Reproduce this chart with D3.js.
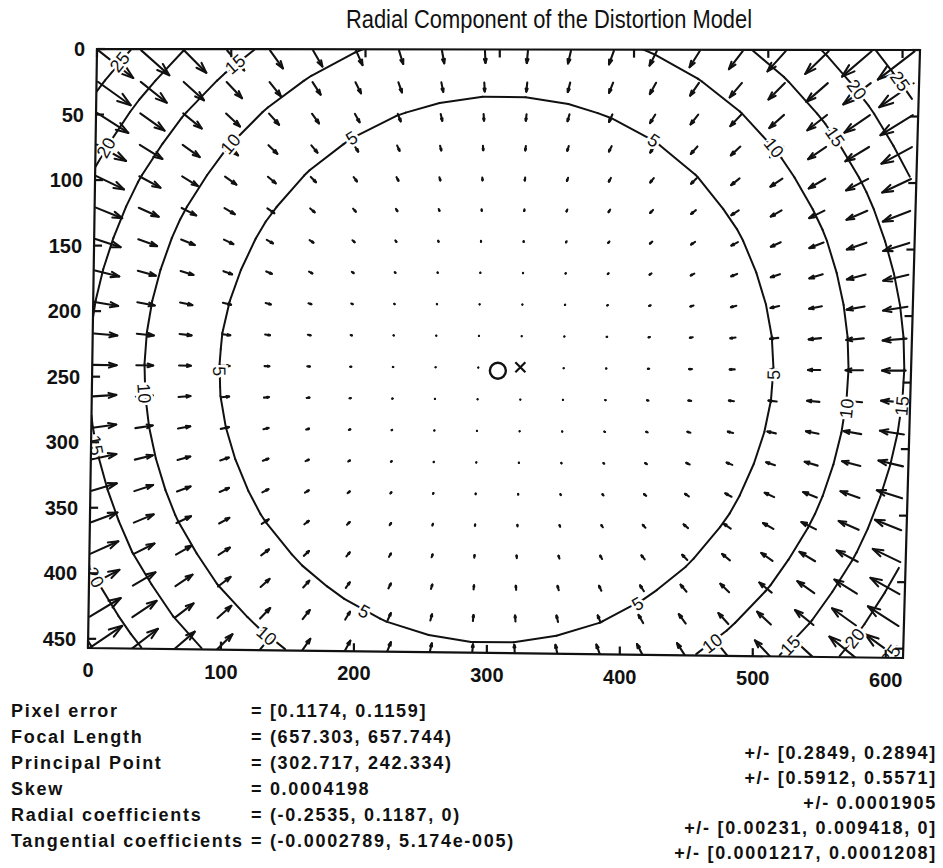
<!DOCTYPE html>
<html>
<head>
<meta charset="utf-8">
<script src="https://cdn.jsdelivr.net/npm/d3@7"></script>
<style>
  body { margin: 0; background: #fff; }
  text { font-family: "Liberation Sans", Arial, sans-serif; fill: #111; }
</style>
</head>
<body>
<div id="chart"></div>
<script>
// calibration results, as printed under the figure
const imageSize = [640, 480];
const focalLength = [657.303, 657.744];
const principalPoint = [302.717, 242.334];
const skew = 0.0004198;
const radialCoeffs = [-0.2535, 0.1187, 0];
const gridDivisions = 20;

const contourLevels = [5, 10, 15, 20, 25, 30];
const xTicks = [0, 100, 200, 300, 400, 500, 600];
const yTicks = [0, 50, 100, 150, 200, 250, 300, 350, 400, 450];
const xLimit = [0, 613];
const yLimit = [0, 457];

// contour labels: level and the rough spot where it sits (image pixels)
const labelSpots = [
  [5, 100, 245], [5, 511, 245], [5, 192, 69], [5, 416, 69], [5, 206, 429], [5, 414, 421],
  [10, 45, 262], [10, 567, 270], [10, 104, 75], [10, 514, 67], [10, 134, 446], [10, 472, 451],
  [15, 10, 301], [15, 611, 268], [15, 107, 16], [15, 559, 60], [15, 534, 454],
  [20, 11, 77], [20, 574, 24], [20, 10, 400], [20, 574, 441],
  [25, 22, 14], [25, 609, 16], [25, 604, 455]
];

const infoNames = ["Pixel error", "Focal Length", "Principal Point", "Skew",
                   "Radial coefficients", "Tangential coefficients"];
const infoValues = ["= [0.1174, 0.1159]", "= (657.303, 657.744)", "= (302.717, 242.334)",
                    "= 0.0004198", "= (-0.2535, 0.1187, 0)", "= (-0.0002789, 5.174e-005)"];
const infoErrors = ["+/- [0.2849, 0.2894]", "+/- [0.5912, 0.5571]", "+/- 0.0001905",
                    "+/- [0.00231, 0.009418, 0]", "+/- [0.0001217, 0.0001208]"];

const W = 943, H = 868;
// the scanned axes box is slightly out of square: corners TL, TR, BR, BL
const corner = {tl: [97, 49], tr: [920, 50], br: [903, 658], bl: [88, 648]};

const svg = d3.select("#chart").append("svg")
    .attr("width", W).attr("height", H);

const u = d3.scaleLinear().domain(xLimit).range([0, 1]);
const v = d3.scaleLinear().domain(yLimit).range([0, 1]);

// data point -> page pixel
function P(dx, dy) {
  const a = u(dx), b = v(dy);
  const c = corner;
  return [
    (1 - a) * (1 - b) * c.tl[0] + a * (1 - b) * c.tr[0] + a * b * c.br[0] + (1 - a) * b * c.bl[0],
    (1 - a) * (1 - b) * c.tl[1] + a * (1 - b) * c.tr[1] + a * b * c.br[1] + (1 - a) * b * c.bl[1]
  ];
}
const line = d3.line().x(p => P(p[0], p[1])[0]).y(p => P(p[0], p[1])[1]);

// grid the toolbox uses: 0:nx/20:nx-1, 0:ny/20:ny-1
const gx = d3.range(0, imageSize[0], imageSize[0] / gridDivisions);
const gy = d3.range(0, imageSize[1], imageSize[1] / gridDivisions);

// radial part of the model, pixel displacement at an image point
function displacement(px, py) {
  const fc = focalLength, cc = principalPoint, kc = radialCoeffs;
  const yn = (py - cc[1]) / fc[1];
  const xn = (px - cc[0] - skew * fc[0] * yn) / fc[0];
  const r2 = xn * xn + yn * yn;
  const k = 1 + kc[0] * r2 + kc[1] * r2 * r2 + kc[2] * r2 * r2 * r2;
  const xd = xn * k, yd = yn * k;
  return [fc[0] * (xd + skew * yd) + cc[0] - px, fc[1] * yd + cc[1] - py];
}
function magnitude(px, py) {
  const d = displacement(px, py);
  return Math.hypot(d[0], d[1]);
}

const vectors = [];
const dr = gy.map(py => gx.map(px => {
  const d = displacement(px, py);
  vectors.push({x: px + 1, y: py + 1, u: d[0], v: d[1]});
  return Math.hypot(d[0], d[1]);
}));

// quiver autoscale like matlab
const n = Math.sqrt(vectors.length);
const delx = (d3.max(vectors, d => d.x) - d3.min(vectors, d => d.x)) / n;
const dely = (d3.max(vectors, d => d.y) - d3.min(vectors, d => d.y)) / n;
const del = delx * delx + dely * dely;
const maxlen = d3.max(vectors, d => Math.sqrt((d.u * d.u + d.v * d.v) / del));
const scaleQ = 0.9 / maxlen;

const plot = svg.append("g");
const clipPts = [corner.tl, corner.tr, corner.br, corner.bl];
svg.append("clipPath").attr("id", "clip").append("polygon")
    .attr("points", clipPts.map(p => p.join(",")).join(" "));

const inner = plot.append("g").attr("clip-path", "url(#clip)");

const alpha = 0.33, beta = 0.33;
const arrows = inner.append("g")
    .attr("stroke", "#111").attr("stroke-width", 2.1)
    .attr("stroke-linecap", "round").attr("stroke-linejoin", "round").attr("fill", "none");

vectors.forEach(function(d) {
  const du = d.u * scaleQ, dv = d.v * scaleQ;
  const tx = d.x + du, ty = d.y + dv;
  arrows.append("path").attr("d", line([[d.x, d.y], [tx, ty]]));
  arrows.append("path").attr("d", line([
    [tx - alpha * (du + beta * dv), ty - alpha * (dv - beta * du)],
    [tx, ty],
    [tx - alpha * (du - beta * dv), ty - alpha * (dv + beta * du)]
  ]));
});

// contour lines by marching squares over the coarse grid
const segs = [];
contourLevels.forEach(function(L) {
  for (let j = 0; j < gy.length - 1; j++) {
    for (let i = 0; i < gx.length - 1; i++) {
      const c = [[i, j], [i + 1, j], [i + 1, j + 1], [i, j + 1]];
      const pts = [];
      for (let e = 0; e < 4; e++) {
        const a = c[e], b = c[(e + 1) % 4];
        const va = dr[a[1]][a[0]], vb = dr[b[1]][b[0]];
        if ((va < L) !== (vb < L)) {
          const t = (L - va) / (vb - va);
          pts.push([gx[a[0]] + t * (gx[b[0]] - gx[a[0]]), gy[a[1]] + t * (gy[b[1]] - gy[a[1]])]);
        }
      }
      if (pts.length >= 2) segs.push([pts[0], pts[1]]);
      if (pts.length === 4) segs.push([pts[2], pts[3]]);
    }
  }
});

inner.append("g")
    .attr("stroke", "#111").attr("stroke-width", 2).attr("fill", "none")
    .attr("stroke-linecap", "round")
  .selectAll("path").data(segs).enter().append("path")
    .attr("d", d => line(d));

// contour labels, snapped onto the level along the ray from the principal point
const labels = inner.append("g");
labelSpots.forEach(function(s) {
  const cc = principalPoint;
  let dx = s[1] - cc[0], dy = s[2] - cc[1];
  const len = Math.hypot(dx, dy);
  dx /= len; dy /= len;
  let lo = 0, hi = 600;
  for (let k = 0; k < 40; k++) {
    const mid = (lo + hi) / 2;
    if (magnitude(cc[0] + dx * mid, cc[1] + dy * mid) < s[0]) lo = mid; else hi = mid;
  }
  const p = P(cc[0] + dx * lo, cc[1] + dy * lo);
  const q = P(cc[0] + dx * (lo + 5), cc[1] + dy * (lo + 5));
  let ang = Math.atan2(q[1] - p[1], q[0] - p[0]) * 180 / Math.PI + 90;
  if (ang > 90) ang -= 180;
  if (ang <= -90) ang += 180;
  labels.append("text")
      .attr("transform", "translate(" + p[0] + "," + p[1] + ") rotate(" + ang + ")")
      .attr("text-anchor", "middle").attr("dy", "0.35em")
      .attr("font-size", 18)
      .attr("stroke", "#fff").attr("stroke-width", 5).attr("paint-order", "stroke")
      .text(s[0]);
});

// principal point and image centre
const pp = P(principalPoint[0] + 1, principalPoint[1] + 1);
inner.append("circle")
    .attr("cx", pp[0]).attr("cy", pp[1])
    .attr("r", 8).attr("fill", "none").attr("stroke", "#111").attr("stroke-width", 2.4);
const cm = P((imageSize[0] - 1) / 2 + 1, (imageSize[1] - 1) / 2 + 1);
inner.append("path")
    .attr("d", `M${cm[0] - 5},${cm[1] - 5}L${cm[0] + 5},${cm[1] + 5}M${cm[0] - 5},${cm[1] + 5}L${cm[0] + 5},${cm[1] - 5}`)
    .attr("stroke", "#111").attr("stroke-width", 2.2);

// axes box with inward ticks
const tickLen = 8;
const axes = plot.append("g").attr("stroke", "#111").attr("stroke-width", 2.2).attr("fill", "none");
axes.append("polygon").attr("points", clipPts.map(p => p.join(",")).join(" "));
xTicks.forEach(function(t) {
  const b = P(t, yLimit[1]), a = P(t, yLimit[0]);
  axes.append("path").attr("d", `M${b[0]},${b[1]}v${-tickLen}`);
  axes.append("path").attr("d", `M${a[0]},${a[1]}v${tickLen}`);
});
yTicks.forEach(function(t) {
  const l = P(xLimit[0], t), r = P(xLimit[1], t);
  axes.append("path").attr("d", `M${l[0]},${l[1]}h${tickLen}`);
  axes.append("path").attr("d", `M${r[0]},${r[1]}h${-tickLen}`);
});

plot.append("g").selectAll("text").data(xTicks).enter().append("text")
    .attr("x", d => P(d, yLimit[1])[0]).attr("y", d => P(d, yLimit[1])[1] + 29)
    .attr("text-anchor", "middle").attr("font-size", 20).attr("font-weight", "bold")
    .text(d => d);
plot.append("g").selectAll("text").data(yTicks).enter().append("text")
    .attr("x", d => P(xLimit[0], d)[0] - 12).attr("y", d => P(xLimit[0], d)[1]).attr("dy", "0.36em")
    .attr("text-anchor", "end").attr("font-size", 20).attr("font-weight", "bold")
    .text(d => d);

// title
svg.append("text")
    .attr("x", 549).attr("y", 28)
    .attr("text-anchor", "middle").attr("font-size", 25)
    .attr("textLength", 406).attr("lengthAdjust", "spacingAndGlyphs")
    .text("Radial Component of the Distortion Model");

// parameter listing
const info = svg.append("g").attr("font-size", 18).attr("font-weight", "bold")
    .attr("letter-spacing", 1.7);
info.selectAll(".nm").data(infoNames).enter().append("text")
    .attr("x", 11).attr("y", (d, i) => 716.5 + i * 26).text(d => d);
info.selectAll(".vl").data(infoValues).enter().append("text")
    .attr("x", 251).attr("y", (d, i) => 716.5 + i * 26).text(d => d);
info.selectAll(".er").data(infoErrors).enter().append("text")
    .attr("x", 937).attr("y", (d, i) => 758.5 + i * 25.2)
    .attr("text-anchor", "end").text(d => d);
</script>
</body>
</html>
